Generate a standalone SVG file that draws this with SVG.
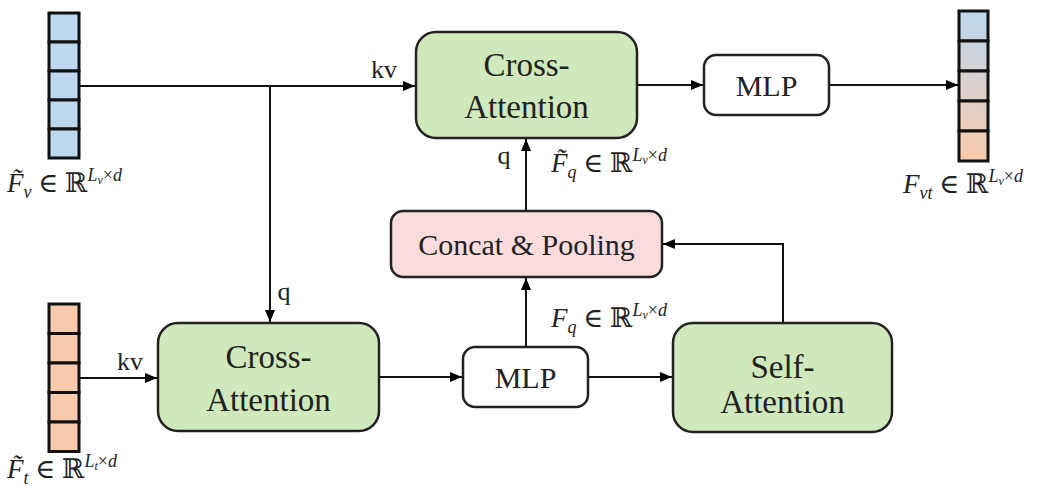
<svg xmlns="http://www.w3.org/2000/svg" width="1053" height="489" viewBox="0 0 1053 489">
<defs>
<marker id="ah" viewBox="0 0 12 10" refX="12" refY="5" markerWidth="12" markerHeight="10" markerUnits="userSpaceOnUse" orient="auto">
<path d="M0,0 L12,5 L0,10 Z" fill="#000"/>
</marker>
<linearGradient id="mix" gradientUnits="userSpaceOnUse" x1="995" y1="10" x2="952" y2="162">
<stop offset="0.05" stop-color="#bdd7ee"/>
<stop offset="0.95" stop-color="#f8cbad"/>
</linearGradient>
<style>
.box{stroke:#222;stroke-width:2.5}
.green{fill:#d0e9bc}
.pink{fill:#fadcdc}
.white{fill:#fff}
.lbl{font-family:"Liberation Serif","Times New Roman",serif;fill:#222;text-anchor:middle}
.big{font-size:33px}
.mid{font-size:30px}
.small{font-size:26px}
.math{font-family:"Liberation Serif","DejaVu Serif",serif;font-style:italic;font-size:27px;fill:#222}
.sub{font-size:18px}
.ss{font-size:12px}
.up{font-style:normal}
.cell{stroke:#111;stroke-width:3}
.conn{stroke:#111;stroke-width:2;fill:none}
</style>
</defs>

<g id="vec-v">
<rect class="cell" x="49" y="13" width="30" height="29" fill="#bdd7ee"/>
<rect class="cell" x="49" y="42" width="30" height="29" fill="#bdd7ee"/>
<rect class="cell" x="49" y="71" width="30" height="29" fill="#bdd7ee"/>
<rect class="cell" x="49" y="100" width="30" height="29" fill="#bdd7ee"/>
<rect class="cell" x="49" y="129" width="30" height="29" fill="#bdd7ee"/>
<text class="math" x="7" y="192">F̃<tspan class="sub" dy="6">v</tspan><tspan class="up" dy="-6"> ∈ ℝ</tspan><tspan class="sub" dy="-11">L<tspan class="ss" dy="3">v</tspan><tspan class="up" dy="-3">×</tspan>d</tspan></text>
</g>

<g id="vec-t">
<rect class="cell" x="49" y="304" width="30" height="29.5" fill="#f8cbad"/>
<rect class="cell" x="49" y="333.5" width="30" height="29.5" fill="#f8cbad"/>
<rect class="cell" x="49" y="363" width="30" height="29.5" fill="#f8cbad"/>
<rect class="cell" x="49" y="392.5" width="30" height="29.5" fill="#f8cbad"/>
<rect class="cell" x="49" y="422" width="30" height="29.5" fill="#f8cbad"/>
<text class="math" x="7" y="478">F̃<tspan class="sub" dy="6">t</tspan><tspan class="up" dy="-6"> ∈ ℝ</tspan><tspan class="sub" dy="-11">L<tspan class="ss" dy="3">t</tspan><tspan class="up" dy="-3">×</tspan>d</tspan></text>
</g>

<g id="vec-vt">
<rect class="cell" x="959" y="11" width="29" height="30" fill="url(#mix)"/>
<rect class="cell" x="959" y="41" width="29" height="30" fill="url(#mix)"/>
<rect class="cell" x="959" y="71" width="29" height="30" fill="url(#mix)"/>
<rect class="cell" x="959" y="101" width="29" height="30" fill="url(#mix)"/>
<rect class="cell" x="959" y="131" width="29" height="30" fill="url(#mix)"/>
<text class="math" x="903" y="193">F<tspan class="sub" dy="6">vt</tspan><tspan class="up" dy="-6"> ∈ ℝ</tspan><tspan class="sub" dy="-11">L<tspan class="ss" dy="3">v</tspan><tspan class="up" dy="-3">×</tspan>d</tspan></text>
</g>

<g id="ca-top">
<rect class="box green" x="416" y="32" width="221" height="106" rx="20"/>
<text class="lbl big" x="526.5" y="76">Cross-</text>
<text class="lbl big" x="526.5" y="118">Attention</text>
</g>

<g id="mlp-top">
<rect class="box white" x="704" y="55" width="125" height="60" rx="12"/>
<text class="lbl mid" x="766.5" y="96">MLP</text>
</g>

<g id="concat">
<rect class="box pink" x="391" y="211" width="271" height="66" rx="12"/>
<text class="lbl mid" x="526.5" y="255">Concat &amp; Pooling</text>
</g>

<g id="ca-bottom">
<rect class="box green" x="158" y="323" width="221" height="108" rx="20"/>
<text class="lbl big" x="268.5" y="368">Cross-</text>
<text class="lbl big" x="268.5" y="411">Attention</text>
</g>

<g id="mlp-bottom">
<rect class="box white" x="463" y="347" width="125" height="60" rx="12"/>
<text class="lbl mid" x="525.5" y="388">MLP</text>
</g>

<g id="sa">
<rect class="box green" x="673" y="323" width="219" height="109" rx="20"/>
<text class="lbl big" x="782.5" y="378">Self-</text>
<text class="lbl big" x="782.5" y="413">Attention</text>
</g>

<g id="connectors">
<path class="conn" d="M79,86 L415,86" marker-end="url(#ah)"/>
<path class="conn" d="M270,86 L270,322" marker-end="url(#ah)"/>
<path class="conn" d="M79,378 L157,378" marker-end="url(#ah)"/>
<path class="conn" d="M379,377 L462,377" marker-end="url(#ah)"/>
<path class="conn" d="M588,377 L672,377" marker-end="url(#ah)"/>
<path class="conn" d="M783,323 L783,244 L663,244" marker-end="url(#ah)"/>
<path class="conn" d="M526,347 L526,278" marker-end="url(#ah)"/>
<path class="conn" d="M526,211 L526,139" marker-end="url(#ah)"/>
<path class="conn" d="M637,85 L703,85" marker-end="url(#ah)"/>
<path class="conn" d="M829,85 L958,85" marker-end="url(#ah)"/>
<text class="lbl small" x="384" y="78">kv</text>
<text class="lbl small" x="130" y="370">kv</text>
<text class="lbl small" x="284" y="300">q</text>
<text class="lbl small" x="504" y="164">q</text>
<text class="math" x="551" y="172">F̃<tspan class="sub" dy="6">q</tspan><tspan class="up" dy="-6"> ∈ ℝ</tspan><tspan class="sub" dy="-11">L<tspan class="ss" dy="3">v</tspan><tspan class="up" dy="-3">×</tspan>d</tspan></text>
<text class="math" x="551" y="327">F<tspan class="sub" dy="6">q</tspan><tspan class="up" dy="-6"> ∈ ℝ</tspan><tspan class="sub" dy="-11">L<tspan class="ss" dy="3">v</tspan><tspan class="up" dy="-3">×</tspan>d</tspan></text>
</g>
</svg>
